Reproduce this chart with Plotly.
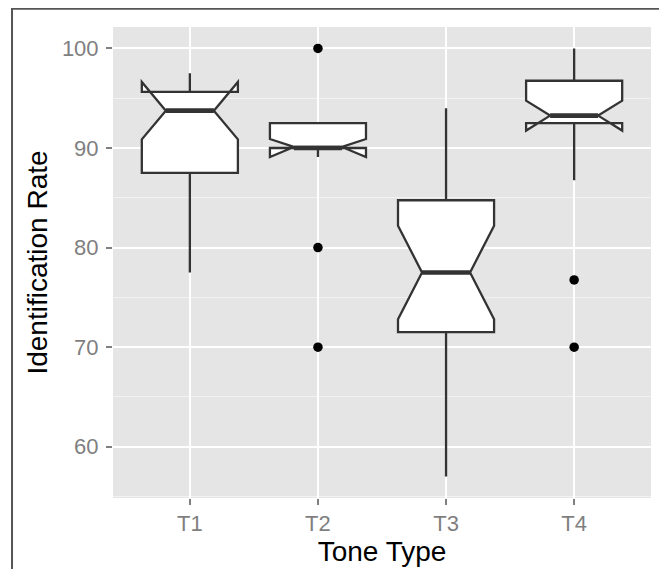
import plotly.graph_objects as go

# ---- data ----
categories = ["T1", "T2", "T3", "T4"]
q1_vals = [87.5, 90.0, 71.5, 92.5]
median_vals = [93.75, 90.0, 77.5, 93.25]
q3_vals = [95.625, 92.5, 84.75, 96.75]
lower_whisker = [77.5, 90.0, 57.0, 86.75]
upper_whisker = [97.5, 92.5, 94.0, 100.0]
notch_halfspan = [2.88, 0.9, 4.7, 1.5]
outlier_cats = ["T2", "T2", "T2", "T4", "T4"]
outlier_vals = [100.0, 80.0, 70.0, 76.75, 70.0]

y_ticks = [60, 70, 80, 90, 100]

BOX_W = 0.75
LINE_C = "#333333"
pos = [i + 1 for i in range(len(categories))]

fig = go.Figure()

fig.add_trace(go.Box(
    x=pos,
    q1=q1_vals, median=median_vals, q3=q3_vals,
    lowerfence=lower_whisker, upperfence=upper_whisker,
    notchspan=notch_halfspan, notched=True, notchwidth=0.25,
    width=BOX_W, whiskerwidth=0,
    fillcolor="white",
    line=dict(color=LINE_C, width=2.3),
    boxpoints=False, showlegend=False, hoverinfo="skip",
))

# thicker median segments (ggplot fatten)
mx, my = [], []
for p, m in zip(pos, median_vals):
    half = BOX_W * 0.25
    mx += [p - half, p + half, None]
    my += [m, m, None]
fig.add_trace(go.Scatter(x=mx, y=my, mode="lines",
                         line=dict(color=LINE_C, width=4.6),
                         showlegend=False, hoverinfo="skip"))

# outliers
fig.add_trace(go.Scatter(
    x=[categories.index(c) + 1 for c in outlier_cats], y=outlier_vals,
    mode="markers", marker=dict(color="black", size=9.5),
    showlegend=False, hoverinfo="skip"))

fig.update_layout(
    width=667, height=569,
    margin=dict(l=105, r=24, t=19, b=79),
    paper_bgcolor="white", plot_bgcolor="#E5E5E5",
    font=dict(family="Liberation Sans, Arial, sans-serif"),
    shapes=[dict(type="rect", xref="paper", yref="paper",
                 x0=-0.1877, x1=1.026, y0=-0.3, y1=1.0385,
                 line=dict(color="#555555", width=2), layer="above")],
)

fig.update_xaxes(
    range=[0.4, 4.6], tickmode="array", tickvals=pos, ticktext=categories,
    showgrid=True, gridcolor="white", gridwidth=1.8, zeroline=False,
    ticks="outside", ticklen=6, tickwidth=1.5, tickcolor="#7F7F7F",
    tickfont=dict(size=22, color="#7F7F7F"),
    title=dict(text="Tone Type", font=dict(size=28, color="black"), standoff=5),
)
fig.update_yaxes(
    range=[54.85, 102.15], tickmode="array", tickvals=y_ticks,
    showgrid=True, gridcolor="white", gridwidth=1.8, zeroline=False,
    minor=dict(dtick=5, tick0=55, showgrid=True, gridcolor="#F2F2F2", gridwidth=0.8),
    ticks="outside", ticklen=6, tickwidth=1.5, tickcolor="#7F7F7F",
    tickfont=dict(size=22, color="#7F7F7F"), ticklabelstandoff=3,
    title=dict(text="Identification Rate", font=dict(size=28, color="black"), standoff=6),
)

fig.write_html("out.html")
